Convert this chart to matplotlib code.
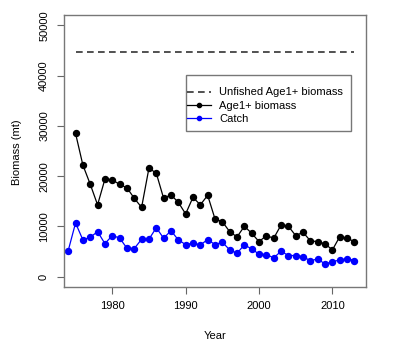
import matplotlib
matplotlib.use("Agg")
from matplotlib import pyplot as plt
from matplotlib.patches import Rectangle

plt.rcParams['font.family'] = ['Liberation Sans', 'DejaVu Sans']

# Data
bio_years = list(range(1975, 2014))
biomass = [28500, 22200, 18400, 14300, 19400, 19300, 18350, 17700, 15600, 13800,
           21600, 20600, 15600, 16300, 14800, 12500, 15800, 14300, 16200, 11500,
           10950, 8970, 7920, 10040, 8650, 6990, 8180, 7660, 10300, 10040,
           8180, 8850, 7130, 6990, 6530, 5350, 7980, 7660, 6990]
catch_years = list(range(1974, 2014))
catch = [5200, 10700, 7330, 7860, 8970, 6600, 8180, 7720, 5680, 5610,
         7460, 7460, 9760, 7660, 9170, 7330, 6400, 6670, 6340, 7390,
         6400, 6870, 5350, 4690, 6340, 5540, 4490, 4420, 3760, 5080,
         4220, 4220, 4020, 3170, 3560, 2510, 3030, 3310, 3620, 3230]
unfished_years = [1975, 2013]
unfished = [44600, 44600]

fig = plt.figure(figsize=(4.0, 3.46), dpi=100)
ax = fig.add_axes([0.161, 0.171, 0.753, 0.785])

ax.plot(unfished_years, unfished, color='#333333', ls=(0, (4, 2.6)), lw=1.2,
        label='Unfished Age1+ biomass')
ax.plot(bio_years, biomass, color='black', lw=0.9, marker='o', ms=4.3,
        label='Age1+ biomass')
ax.plot(catch_years, catch, color='#0000ff', lw=0.9, marker='o', ms=4.3,
        mec='#0000ff', label='Catch')

ax.set_xlim(1973.48, 2014.52)
ax.set_ylim(-2000, 52000)
ax.set_xticks([1980, 1990, 2000, 2010])
ax.set_yticks([0, 10000, 20000, 30000, 40000, 50000])
ax.set_yticklabels(['0', '10000', '20000', '30000', '40000', '50000'],
                   rotation=90, va='center')
ax.tick_params(axis='both', labelsize=8, length=5, width=0.8, color='#666666')
ax.tick_params(axis='x', pad=5.5)
ax.tick_params(axis='y', pad=6)
for s in ax.spines.values():
    s.set_color('#777777')
    s.set_linewidth(1.0)

fig.text(17 / 400, 1 - 152 / 346, 'Biomass (mt)', rotation=90, ha='center',
         va='center', fontsize=8)
fig.text(215 / 400, 1 - 336 / 346, 'Year', ha='center', va='center', fontsize=8)

# legend box drawn separately so the padding can match
ax.add_patch(Rectangle((0.403, 0.574), 0.548, 0.206, transform=ax.transAxes,
                       fill=True, facecolor='white', edgecolor='#777777', lw=1.0,
                       zorder=4))
leg = ax.legend(loc='upper left', bbox_to_anchor=(0.408, 0.734), fontsize=8,
                frameon=False, borderpad=0, labelspacing=0.3, markerscale=0.7,
                handlelength=2.1, handletextpad=0.75, borderaxespad=0)
leg.set_zorder(5)

fig.savefig('out.png', dpi=100)
